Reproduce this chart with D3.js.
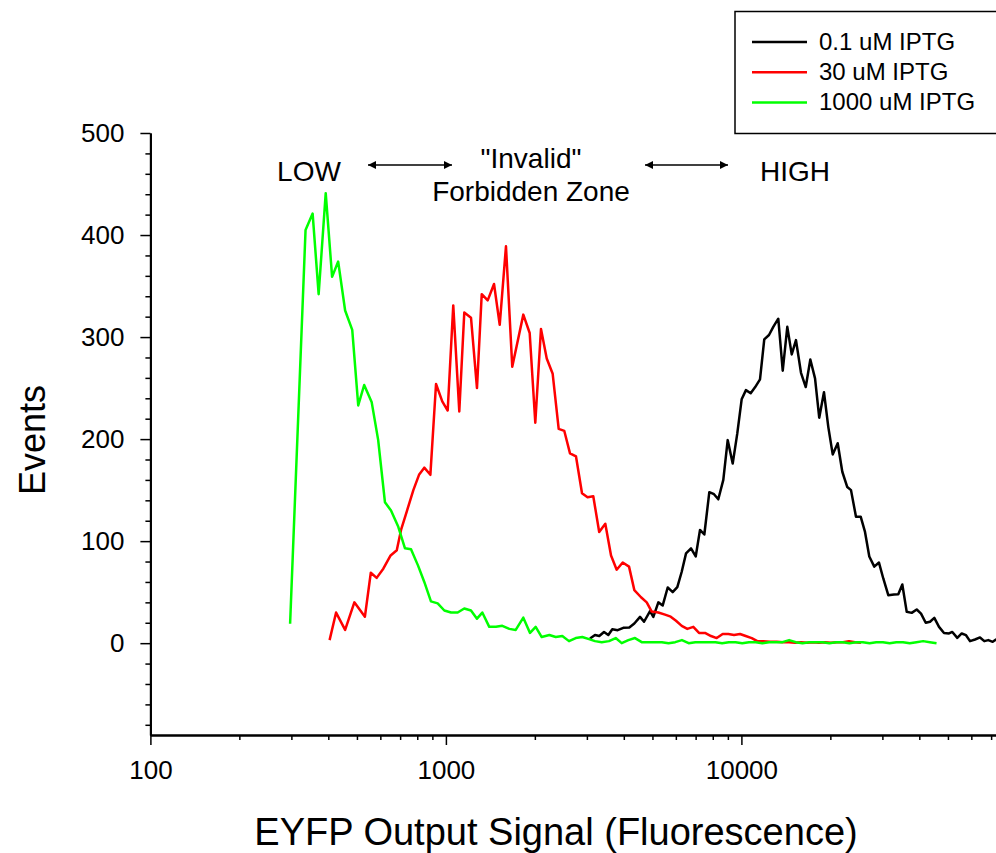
<!DOCTYPE html>
<html><head><meta charset="utf-8">
<script src="https://cdn.jsdelivr.net/npm/d3@7"></script>
<style>
body{margin:0;background:#fff}
svg{display:block}
text{font-family:Arial,"Liberation Sans",sans-serif;fill:#000}
</style>
</head><body>
<svg id="c" width="996" height="853"></svg>
<script>
// ---- data (fluorescence, events) ----
const seriesNames = ["0.1 uM IPTG", "30 uM IPTG", "1000 uM IPTG"];
const seriesColors = ["#000000", "#ff0000", "#00ff00"];

const iptg01 = [[3074,4.6],[3196,8],[3304,7],[3428,11],[3545,8],[3657,13.7],[3814,12.7],[3984,15],[4175,15.4],[4342,19.3],[4539,25.8],[4683,21],[4907,31.4],[5035,25.8],[5235,40],[5417,37],[5631,54.6],[5854,50],[6069,55],[6281,70],[6496,88],[6753,93],[7005,85],[7243,111],[7491,106.5],[7788,148],[8078,146],[8353,141],[8685,160],[8987,199],[9345,176],[9685,205.6],[10020,239],[10360,248],[10750,245],[11120,250.7],[11560,258.5],[11950,297.7],[12400,302],[12820,310],[13330,318],[13800,267],[14300,310],[14800,283],[15300,297],[15910,265],[16510,251],[17110,278],[17750,259.5],[18340,221],[19030,246],[19680,212],[20370,185],[21180,196],[21950,168],[22820,153],[23490,150],[24420,124],[25330,124],[26200,109],[27090,85],[28160,75],[29210,79],[30210,63.4],[31410,47],[32840,47.7],[33960,48],[35040,57.5],[36260,30.7],[37700,29.7],[39200,33],[40540,29],[42050,20],[43480,21],[44960,24.8],[46640,16],[48490,10],[50420,9.5],[51730,11],[53780,5.2],[55660,9.5],[57560,7.8],[59380,2],[61740,3.6],[64190,5.6],[66370,2],[68470,3],[70860,1.3],[72710,3.6],[75470,2]];

const iptg30 = [[404,3],[425,30],[456,13],[490,40],[532,26],[557,69],[583,64],[614,73],[650,86],[682,91],[705,111],[737,129],[776,150],[811,165],[845,172],[886,165],[926,254],[972,237],[1014,228],[1059,331],[1110,227],[1154,324],[1216,319],[1274,250],[1322,342],[1385,336],[1455,352],[1521,312],[1597,389],[1677,271],[1828,322],[1921,304],[2007,216],[2098,308],[2194,279],[2298,264],[2408,210],[2516,208],[2630,186],[2756,183],[2888,147],[3015,143],[3153,144],[3302,109],[3463,117],[3621,86],[3784,72],[3966,79],[4166,75],[4342,52],[4574,45],[4782,40],[4972,31],[5235,30],[5515,28],[5764,26],[6008,22],[6281,17],[6561,14],[6875,16],[7187,10],[7531,10],[7891,7],[8249,5],[8644,9],[9030,9],[9441,8],[9892,9],[10340,7],[10840,5],[11320,2],[11860,2],[12500,1.5],[13170,1.5],[13830,1],[14490,1],[15190,0.5],[15910,1],[16670,0.5],[17470,1],[18300,0.5],[19180,1],[20100,0.5],[21060,1],[22070,1],[23120,2],[24230,1],[25390,0.5]];

const iptg1000 = [[297,19],[335,405],[354,421],[371,342],[392,441],[412,359],[432,374],[456,326],[482,307],[505,233],[529,253],[561,236],[590,199],[622,138],[652,130],[690,114],[727,93],[762,92],[805,76],[845,60],[890,41],[938,39],[988,32],[1041,30],[1096,30],[1154,34],[1216,32],[1274,24],[1328,30],[1402,16],[1477,16],[1552,17],[1639,14],[1723,13],[1828,25],[1926,10],[2013,16],[2110,6],[2239,8],[2353,6],[2477,7],[2610,2],[2750,5],[2895,6],[3050,4],[3196,2],[3367,1],[3564,2],[3755,5],[3935,0],[4144,3],[4365,5],[4599,1],[4846,1],[5106,1],[5379,1],[5668,0],[5971,1],[6291,3],[6629,0],[6984,1],[7358,1],[7753,1],[8168,1],[8606,0],[9067,1],[9553,1],[10065,0],[10605,1],[11173,1],[11772,0],[12403,1],[13068,1],[13768,1],[14506,3],[15283,1],[16102,0],[16965,1],[17875,1],[18833,1],[19842,0],[20905,1],[22026,1],[23206,0],[24450,1],[25760,1],[27141,0],[28595,1],[30128,1],[31742,0],[33444,1],[35236,1],[37124,0],[39114,1],[41210,2],[43418,1],[45745,0]];

const yMajorTicks = [0, 100, 200, 300, 400, 500];
const yMinorTicks = [-80,-60,-40,-20,20,40,60,80,120,140,160,180,220,240,260,280,320,340,360,380,420,440,460,480];
const xMajorTicks = [100, 1000, 10000, 100000];
const xTickLabels = ["100", "1000", "10000", ""];
const xMinorTicks = [200,300,400,500,600,700,800,900,2000,3000,4000,5000,6000,7000,8000,9000,20000,30000,40000,50000,60000,70000,80000,90000];
const yTitle = "Events";
const xTitle = "EYFP Output Signal (Fluorescence)";
const annotLow = "LOW", annotHigh = "HIGH", annotMid1 = "\"Invalid\"", annotMid2 = "Forbidden Zone";

// ---- scales ----
const svg = d3.select("#c");
const x = d3.scaleLog().domain([100, 100000]).range([150.4, 1036.9]);
const y = d3.scaleLinear().domain([-90, 500]).range([735, 133]);

// ---- axes ----
function styleAxis(g, sw){
  g.selectAll(".domain").attr("stroke","#000").attr("stroke-width",2).attr("fill","none");
  g.selectAll(".tick line").attr("stroke","#000").attr("stroke-width",sw);
  g.selectAll(".tick text").style("font-size","26px").attr("fill","#000");
}
svg.append("g").attr("transform","translate(150.4,0)")
  .call(d3.axisLeft(y).tickValues(yMinorTicks).tickSize(5).tickSizeOuter(0).tickFormat(""))
  .call(g=>styleAxis(g,1.5));
svg.append("g").attr("transform","translate(150.4,0)")
  .call(d3.axisLeft(y).tickValues(yMajorTicks).tickSize(10).tickSizeOuter(0).tickPadding(16))
  .call(g=>styleAxis(g,1.5));
svg.append("g").attr("transform","translate(0,735)")
  .call(d3.axisBottom(x).tickValues(xMinorTicks).tickSize(5).tickSizeOuter(0).tickFormat(""))
  .call(g=>styleAxis(g,1.5));
svg.append("g").attr("transform","translate(0,735)")
  .call(d3.axisBottom(x).tickValues(xMajorTicks).tickSize(10).tickSizeOuter(0).tickPadding(16)
        .tickFormat((d,i)=>xTickLabels[i]))
  .call(g=>styleAxis(g,1.5));

// ---- lines ----
const line = d3.line().x(d=>x(d[0])).y(d=>y(d[1]));
const allSeries = [iptg01, iptg30, iptg1000];
allSeries.forEach((s,i)=>{
  svg.append("path").datum(s).attr("d",line)
    .attr("fill","none").attr("stroke",seriesColors[i])
    .attr("stroke-width",2.5).attr("stroke-linejoin","round");
});

// ---- titles ----
svg.append("text").attr("transform","translate(45,440) rotate(-90)")
  .attr("text-anchor","middle").style("font-size","36px").text(yTitle);
svg.append("text").attr("x",556).attr("y",845)
  .attr("text-anchor","middle").style("font-size","38px").text(xTitle);

// ---- annotations ----
const defs = svg.append("defs");
defs.append("marker").attr("id","ah").attr("viewBox","0 0 10 10")
  .attr("refX",10).attr("refY",5).attr("markerWidth",10).attr("markerHeight",8)
  .attr("markerUnits","userSpaceOnUse").attr("orient","auto-start-reverse")
  .append("path").attr("d","M0,0 L10,5 L0,10 Z").attr("fill","#000");
[[368,452],[645,728]].forEach(a=>{
  svg.append("line").attr("x1",a[0]).attr("x2",a[1]).attr("y1",165).attr("y2",165)
    .attr("stroke","#000").attr("stroke-width",1.5)
    .attr("marker-start","url(#ah)").attr("marker-end","url(#ah)");
});
svg.append("text").attr("x",309).attr("y",181).attr("text-anchor","middle").style("font-size","28px").text(annotLow);
svg.append("text").attr("x",531).attr("y",168).attr("text-anchor","middle").style("font-size","28px").text(annotMid1);
svg.append("text").attr("x",531).attr("y",201).attr("text-anchor","middle").style("font-size","28px").text(annotMid2);
svg.append("text").attr("x",795).attr("y",181).attr("text-anchor","middle").style("font-size","28px").text(annotHigh);

// ---- legend ----
const lg = svg.append("g");
lg.append("rect").attr("x",735).attr("y",11.5).attr("width",300).attr("height",122)
  .attr("fill","#fff").attr("stroke","#000").attr("stroke-width",1.5);
seriesNames.forEach((n,i)=>{
  const yy = 42 + i*30.2;
  lg.append("line").attr("x1",752).attr("x2",807).attr("y1",yy).attr("y2",yy)
    .attr("stroke",seriesColors[i]).attr("stroke-width",2.5);
  lg.append("text").attr("x",819).attr("y",yy+8).style("font-size","24px").text(n);
});
</script>
</body></html>
